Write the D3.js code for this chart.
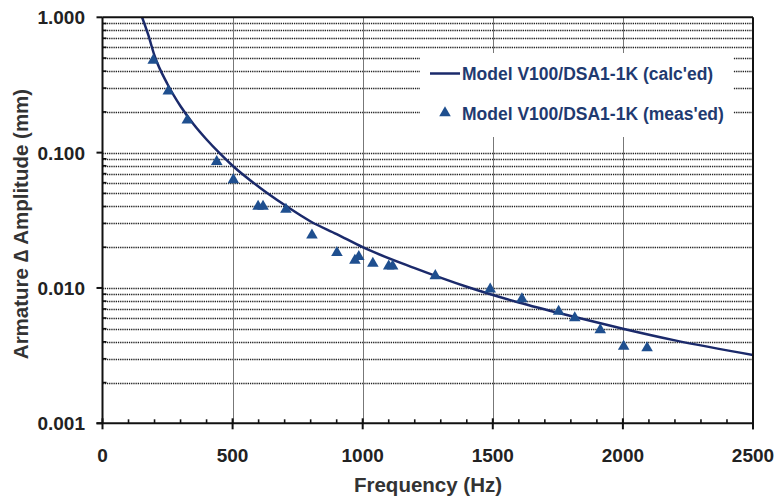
<!DOCTYPE html>
<html>
<head>
<meta charset="utf-8">
<script src="https://cdn.jsdelivr.net/npm/d3@7/dist/d3.min.js"></script>
<style>
  body { margin: 0; background: #fff; }
  svg { display: block; font-family: "Liberation Sans", Arial, sans-serif; }
</style>
</head>
<body>
<div id="chart"></div>
<script>
// calc'ed curve (Hz, mm)
var calc_freq = [148, 175, 200, 250, 300, 350, 400, 450, 500, 600, 700, 800, 900, 1000,
  1200, 1400, 1600, 1800, 2000, 2200, 2500];
var calc_amp = [1.05, 0.75, 0.52, 0.32, 0.22, 0.162, 0.125, 0.099, 0.080, 0.056, 0.041, 0.031, 0.025, 0.020,
  0.014, 0.0102, 0.0078, 0.0062, 0.0050, 0.0041, 0.0032];

// measured points
var meas_freq = [195, 253, 326, 439, 503, 598, 617, 705, 805, 901, 970, 985, 1039, 1100, 1115,
  1279, 1490, 1612, 1753, 1815, 1913, 2003, 2093];
var meas_amp = [0.48, 0.285, 0.174, 0.0857, 0.063, 0.040, 0.040, 0.038, 0.0246, 0.0182, 0.0160, 0.0170, 0.0152, 0.0145, 0.0145,
  0.0123, 0.0098, 0.0083, 0.0067, 0.0060, 0.0049, 0.0037, 0.0036];

var x_ticks = [0, 500, 1000, 1500, 2000, 2500];
var y_ticks = [1, 0.1, 0.01, 0.001];
var y_labels = ["1.000", "0.100", "0.010", "0.001"];

var legend_names = ["Model V100/DSA1-1K (calc'ed)", "Model V100/DSA1-1K (meas'ed)"];

var width = 779, height = 499;
var plot_left = 102.5, plot_right = 753, plot_top = 17.3, plot_bottom = 423.3;

var line_color = "#1b2a6b";
var mark_color = "#1f4f8f";
var legend_text = "#1f3a70";

var svg = d3.select("#chart").append("svg")
  .attr("width", width)
  .attr("height", height);

var x = d3.scaleLinear().domain([0, 2500]).range([plot_left, plot_right]);
var y = d3.scaleLog().domain([0.001, 1]).range([plot_bottom, plot_top]);

// minor values on the log axis
var minor = [];
[0.001, 0.01, 0.1].forEach(function(d) {
  for (var k = 1; k <= 9; k++) {
    if (k > 1 || d > 0.001) minor.push(k * d);
  }
});

// horizontal dotted grid
svg.append("g").selectAll("line")
  .data(minor)
  .enter().append("line")
  .attr("x1", plot_left).attr("x2", plot_right)
  .attr("y1", function(d) { return Math.round(y(d)) + 0.5; })
  .attr("y2", function(d) { return Math.round(y(d)) + 0.5; })
  .style("stroke", "#222")
  .style("stroke-width", 1.3)
  .style("stroke-dasharray", "1.3,0.9");

// vertical grid
svg.append("g").selectAll("line")
  .data([500, 1000, 1500, 2000])
  .enter().append("line")
  .attr("x1", function(d) { return Math.round(x(d)) + 0.5; })
  .attr("x2", function(d) { return Math.round(x(d)) + 0.5; })
  .attr("y1", plot_top).attr("y2", plot_bottom)
  .style("stroke", "#777")
  .style("stroke-width", 1);

// legend box covers the grid
svg.append("rect")
  .attr("x", 420).attr("y", 53)
  .attr("width", 313).attr("height", 84)
  .style("fill", "#fff");

svg.append("clipPath").attr("id", "plot")
  .append("rect")
  .attr("x", plot_left).attr("y", plot_top)
  .attr("width", plot_right - plot_left).attr("height", plot_bottom - plot_top);

var curve = d3.line()
  .x(function(d) { return x(d[0]); })
  .y(function(d) { return y(d[1]); })
  .curve(d3.curveMonotoneX);

svg.append("path")
  .datum(d3.zip(calc_freq, calc_amp))
  .attr("clip-path", "url(#plot)")
  .attr("d", curve)
  .style("fill", "none")
  .style("stroke", line_color)
  .style("stroke-width", 2.5);

var tri = d3.symbol().type(d3.symbolTriangle).size(58);

svg.append("g").selectAll("path")
  .data(d3.zip(meas_freq, meas_amp))
  .enter().append("path")
  .attr("d", tri)
  .attr("transform", function(d) { return "translate(" + x(d[0]) + "," + y(d[1]) + ")"; })
  .style("fill", mark_color);

function addLine(x1, y1, x2, y2, w) {
  svg.append("line")
    .attr("x1", x1).attr("y1", y1).attr("x2", x2).attr("y2", y2)
    .style("stroke", "#111")
    .style("stroke-width", w || 2);
}

// frame
addLine(plot_left, plot_top, plot_right, plot_top);
addLine(plot_right, plot_top, plot_right, plot_bottom + 6);
addLine(plot_left, plot_top, plot_left, plot_bottom);
addLine(plot_left - 6, plot_bottom, plot_right, plot_bottom);

// y ticks
y_ticks.forEach(function(d) { addLine(plot_left - 6, y(d), plot_left, y(d)); });
minor.forEach(function(d) {
  if (y_ticks.indexOf(d) === -1) addLine(plot_left, y(d), plot_left + 4, y(d), 1.6);
});

// x ticks
x_ticks.forEach(function(d) { addLine(x(d), plot_bottom - 5, x(d), plot_bottom + 6); });
d3.range(100, 2500, 100).forEach(function(d) {
  if (d % 500 !== 0) addLine(x(d), plot_bottom - 4, x(d), plot_bottom, 1.6);
});

// tick labels
svg.append("g").selectAll("text")
  .data(y_ticks)
  .enter().append("text")
  .attr("x", 85)
  .attr("y", function(d) { return y(d) + 7; })
  .attr("text-anchor", "end")
  .style("font-size", "19px")
  .style("font-weight", "bold")
  .style("fill", "#222")
  .text(function(d, i) { return y_labels[i]; });

svg.append("g").selectAll("text")
  .data(x_ticks)
  .enter().append("text")
  .attr("x", function(d) { return x(d); })
  .attr("y", 462)
  .attr("text-anchor", "middle")
  .style("font-size", "19px")
  .style("font-weight", "bold")
  .style("fill", "#222")
  .text(function(d) { return d; });

svg.append("text")
  .attr("x", 428)
  .attr("y", 492)
  .attr("text-anchor", "middle")
  .style("font-size", "20.5px")
  .style("font-weight", "bold")
  .style("fill", "#333")
  .text("Frequency (Hz)");

svg.append("text")
  .attr("transform", "translate(28,224) rotate(-90)")
  .attr("text-anchor", "middle")
  .style("font-size", "20.5px")
  .style("font-weight", "bold")
  .style("fill", "#333")
  .text("Armature \u2206 Amplitude (mm)");

// legend
svg.append("line")
  .attr("x1", 430).attr("x2", 460)
  .attr("y1", 73.5).attr("y2", 73.5)
  .style("stroke", line_color)
  .style("stroke-width", 2.5);

svg.append("path")
  .attr("d", tri)
  .attr("transform", "translate(445,113)")
  .style("fill", mark_color);

svg.append("g").selectAll("text")
  .data(legend_names)
  .enter().append("text")
  .attr("x", 462)
  .attr("y", function(d, i) { return i === 0 ? 80 : 119.5; })
  .style("font-size", "17.5px")
  .style("font-weight", "bold")
  .style("fill", legend_text)
  .text(function(d) { return d; });
</script>
</body>
</html>
